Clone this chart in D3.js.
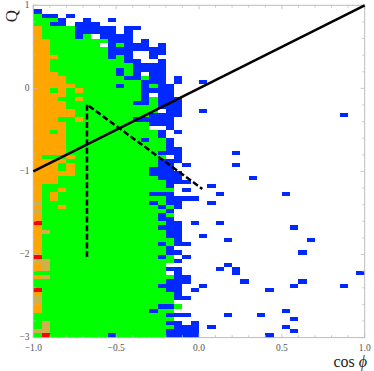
<!DOCTYPE html>
<html><head><meta charset="utf-8">
<script src="https://d3js.org/d3.v7.min.js"></script>
<style>html,body{margin:0;padding:0;background:#fff}svg{display:block}text{font-family:"Liberation Serif",serif}</style>
</head><body><svg id="c" width="374" height="371"></svg>
<script>
// Histogram rows from Q = 1 (top) to Q = -3, run-length coded over 40 cos(phi) bins: count + level
const cellRuns = [
"", "1b", "1g 2b 1. 1b", "3g 1b 2. 1b 2. 1b", "2g 2b 1. 3b",
"1o 4g 5b 1. 2b", "1o 4g 5b 1. 1b", "1o 4g 1b 1g 1. 4b", "2o 7g 3b 1. 1b", "2o 6g 1. 1b 1g 3b 1. 1b",
"2o 7g 7b", "2o 7g 3b 2. 2b", "3o 6g 1b 1g 1b 2. 1b", "2o 9g 2b 2. 1b", "2o 10g 4b",
"2o 8g 1b 1g 4b", "3o 7g 1b 1g 1b 1. 2b", "4o 7g 2b 1g 2b 1. 1b", "4o 9g 3b 1. 1b 2. 1b", "5o 5g 1b 2g 1b 1g 2b",
"2o 1g 1o 1g 1o 7g 4b", "4o 9g 1b 1. 2b", "3o 2g 1o 7g 1b 1g 3b", "4o 8g 2b 1g 3b", "4o 11g 3b",
"5o 10g 1. 2b 2. 1b", "5o 9g 4b 19. 1b", "3o 2g 1o 6g 5b", "4o 10g 3b", "4o 10g 2. 1b",
"2o 1g 1o 11g 1b 1. 1b", "4o 11g 1b", "4o 9g 1b 2g 1b", "4o 12g 1b", "4o 12g 2b",
"4o 11g 3b 6. 1b", "1o 3g 1o 11g 1. 1b", "4o 11g 3b", "3o 1g 1o 10g 2b 1. 1b 5. 1b", "3o 1g 1o 9g 3b",
"5o 9g 4b", "3o 12g 3b 8. 1b", "3o 13g 3b", "1o 15g 1b 4. 1b", "1o 2g 1o 13g 1. 1b",
"1o 1g 1o 11g 3b 5. 1b 7. 1b", "1o 1g 1o 13g 4b", "1k 13g 1b 1g 2b 3. 1b", "1o 2g 1o 11g 1b 1g 1b", "1k 15g 1b",
"1o 14g 1b 1g", "1o 14g 2b", "1r 15g 2b 1. 1b 2. 1b", "1o 14g 3b 13. 1b", "1o 1k 14g 2b",
"1o 15g 2b 2. 1b", "1o 16g 1b 5. 1b 9. 1b", "1o 14g 1b 1g 2b", "1o 15g 1b", "1o 15g 2b 14. 1b",
"1r 14g 1b 1g 1. 1b", "2k 15g 1b", "1o 1k 14g 7. 1b", "1o 1k 14g 2b 4. 1b 1. 1b", "16g 1. 1b 6. 1b 14. 1b",
"1o 1k 15g 2b", "16g 3b 6. 1b 6. 1b", "15g 3b 2. 1b 10. 1b 5. 1b", "1r 15g 2b 1. 1b 8. 1b", "1o 16g 1b",
"1k 16g 2b", "1k 16g", "1o 14g 2b 1g", "1o 13g 1b 2g 13. 1b", "16g 3b 4. 1b 3. 1b",
"17g 14. 1b", "1g 1k 14g 2b 1. 1b", "1g 1k 15g 3b 1. 1b 8. 1b", "2k 14g 4b 11. 1b", "1g 1r 7g 1b 6g 4b 8. 1b"
];
const levelCodes = ["b", "g", "o", "k", "r"];
const levelColors = ["#0028ff", "#00ff00", "#ffa500", "#d0b048", "#ff0000"];
const xTickLabels = [-1, -0.5, 0, 0.5, 1];
const yTickLabels = [1, 0, -1, -2, -3];
const solidLine = [[-1, -1], [1, 1]];
const dashedLine = [[-0.676, -2.03], [-0.676, -0.195], [0.02, -1.21]];

const binW = 0.05, binH = 0.05;
const x = d3.scaleLinear().domain([-1, 1]).range([33.3, 364.7]);
const y = d3.scaleLinear().domain([1, -3]).range([5.3, 337.6]);
const color = d3.scaleOrdinal(levelCodes, levelColors);
const svg = d3.select("#c");

const cells = [];
cellRuns.forEach((row, r) => {
  let c = 0;
  for (const m of row.matchAll(/(\d+)(\S)/g)) {
    for (let i = 0; i < +m[1]; i++, c++) if (m[2] !== ".") cells.push({c, r, v: m[2]});
  }
});
svg.append("g").selectAll("rect").data(cells).join("rect")
  .attr("x", d => x(-1 + d.c * binW))
  .attr("y", d => y(1 - d.r * binH))
  .attr("width", d => x(-1 + (d.c + 1) * binW) - x(-1 + d.c * binW))
  .attr("height", d => y(1 - (d.r + 1) * binH) - y(1 - d.r * binH))
  .attr("fill", d => color(d.v))
  .attr("shape-rendering", "crispEdges");

// frame and inward ticks
const axisColor = "#bcbcbc";
svg.append("rect").attr("x", x(-1)).attr("y", y(1)).attr("width", x(1) - x(-1)).attr("height", y(-3) - y(1))
  .attr("fill", "none").attr("stroke", axisColor).attr("stroke-width", 1);
const xt = d3.range(-10, 11).map(d => d / 10);
const yt = d3.range(-15, 6).map(d => d / 5);
const ticks = svg.append("g").attr("stroke", axisColor).attr("stroke-width", 0.8);
xt.forEach(t => {
  const major = Math.abs(t * 2 - Math.round(t * 2)) < 1e-6, l = major ? 4 : 2.4;
  ticks.append("line").attr("x1", x(t)).attr("x2", x(t)).attr("y1", y(-3)).attr("y2", y(-3) - l);
  ticks.append("line").attr("x1", x(t)).attr("x2", x(t)).attr("y1", y(1)).attr("y2", y(1) + l);
});
yt.forEach(t => {
  const major = Math.abs(t - Math.round(t)) < 1e-6, l = major ? 4 : 2.4;
  ticks.append("line").attr("y1", y(t)).attr("y2", y(t)).attr("x1", x(-1)).attr("x2", x(-1) + l);
  ticks.append("line").attr("y1", y(t)).attr("y2", y(t)).attr("x1", x(1)).attr("x2", x(1) - l);
});

// tick labels
svg.append("g").selectAll("text").data(xTickLabels).join("text")
  .attr("x", d => x(d)).attr("y", 350.5).attr("text-anchor", "middle")
  .attr("font-size", 9.5).attr("fill", "#555")
  .text(d => d3.format(".1f")(d).replace("-", "\u2212"));
svg.append("g").selectAll("text").data(yTickLabels).join("text")
  .attr("x", 29.5).attr("y", d => y(d) + 2.4).attr("text-anchor", "end")
  .attr("font-size", 9.5).attr("fill", "#555")
  .text(d => String(d).replace("-", "\u2212"));

// lines
const line = d3.line().x(d => x(d[0])).y(d => y(d[1]));
svg.append("path").attr("d", line(solidLine)).attr("fill", "none").attr("stroke", "#000").attr("stroke-width", 2.5);
svg.append("path").attr("d", line(dashedLine)).attr("fill", "none").attr("stroke", "#000")
  .attr("stroke-width", 2.5).attr("stroke-dasharray", "6,2.6");

// axis titles
svg.append("text").attr("transform", "translate(17,16) rotate(-90)").attr("text-anchor", "middle")
  .attr("font-size", 17).attr("fill", "#222").text("Q");
const xl = svg.append("text").attr("x", 367).attr("y", 367).attr("text-anchor", "end").attr("font-size", 16).attr("fill", "#222");
xl.append("tspan").text("cos ");
xl.append("tspan").attr("font-style", "italic").text("\u03d5");
</script></body></html>
